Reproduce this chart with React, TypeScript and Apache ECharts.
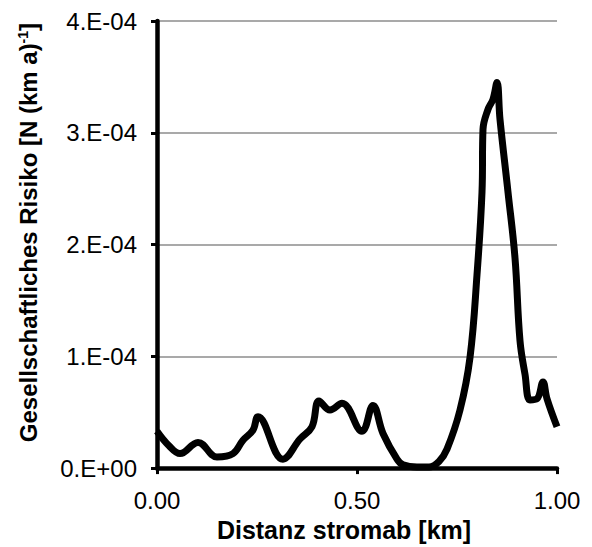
import React, { useEffect, useRef } from "react";
import * as echarts from "echarts";

const distanceKm = [
  0.0, 0.03, 0.0575, 0.1025, 0.15, 0.19, 0.215, 0.24, 0.2525, 0.315, 0.3575, 0.3875,
  0.405, 0.4325, 0.4625, 0.5125, 0.54, 0.565, 0.6, 0.615, 0.65, 0.68, 0.705, 0.725,
  0.7575, 0.7825, 0.8, 0.8125, 0.815, 0.8275, 0.84, 0.85, 0.8575, 0.8775, 0.895,
  0.9075, 0.92, 0.9325, 0.95, 0.965, 0.975, 1.0,
];
const risk = [
  3.3e-5, 2.0e-5, 1.3e-5, 2.3e-5, 1.0e-5, 1.3e-5, 2.5e-5, 3.4e-5, 4.6e-5, 0.8e-5, 2.6e-5, 3.7e-5,
  6.0e-5, 5.2e-5, 5.8e-5, 3.3e-5, 5.6e-5, 3.1e-5, 0.8e-5, 0.3e-5, 0.1e-5, 0.1e-5, 0.6e-5, 1.7e-5,
  5.2e-5, 9.9e-5, 1.73e-4, 2.47e-4, 3.03e-4, 3.21e-4, 3.3e-4, 3.45e-4, 3.12e-4, 2.47e-4, 1.88e-4,
  1.14e-4, 8.4e-5, 6.1e-5, 6.2e-5, 7.7e-5, 6.2e-5, 3.7e-5,
];
const yTickLabels = ["0.E+00", "1.E-04", "2.E-04", "3.E-04", "4.E-04"];
const xTickLabels = ["0.00", "0.50", "1.00"];

export default function App() {
  const ref = useRef<HTMLDivElement>(null);
  useEffect(() => {
    if (!ref.current) return;
    const chart = echarts.init(ref.current, undefined, { renderer: "svg" });
    const font = "Arial, 'Liberation Sans', sans-serif";
    chart.setOption({
      animation: false,
      backgroundColor: "#ffffff",
      grid: { left: 157, right: 35, top: 21, bottom: 75 },
      xAxis: {
        type: "value",
        min: 0,
        max: 1,
        interval: 0.5,
        name: "Distanz stromab [km]",
        nameLocation: "middle",
        nameGap: 48,
        nameTextStyle: { fontFamily: font, fontSize: 25, fontWeight: "bold", color: "#000", padding: [0, 26, 0, 0] },
        axisLine: { show: true, lineStyle: { color: "#000", width: 4.5 } },
        axisTick: { show: true, inside: false, length: 6, lineStyle: { color: "#000", width: 3 } },
        axisLabel: {
          fontFamily: font,
          fontSize: 24,
          color: "#000",
          margin: 20,
          formatter: (v: number) => xTickLabels[Math.round(v / 0.5)] ?? "",
        },
        splitLine: { show: false },
      },
      yAxis: {
        type: "value",
        min: 0,
        max: 4e-4,
        interval: 1e-4,
        name: "{t|Gesellschaftliches Risiko [N (km a)}{s|-1}{t|]}",
        nameLocation: "middle",
        nameGap: 117,
        nameRotate: 90,
        nameTextStyle: {
          padding: [0, 0, 0, 24],
          rich: {
            t: { fontFamily: font, fontSize: 24, fontWeight: "bold", color: "#000" },
            s: { fontFamily: font, fontSize: 14, fontWeight: "bold", color: "#000", verticalAlign: "top", padding: [0, 0, 10, 0] },
          },
        },
        axisLine: { show: true, lineStyle: { color: "#000", width: 4.5 } },
        axisTick: { show: true, inside: false, length: 6, lineStyle: { color: "#000", width: 3 } },
        axisLabel: {
          fontFamily: font,
          fontSize: 24,
          color: "#000",
          margin: 20,
          formatter: (v: number) => yTickLabels[Math.round(v / 1e-4)] ?? "",
        },
        splitLine: { show: true, lineStyle: { color: "#8c8c8c", width: 1.5 } },
      },
      series: [
        {
          type: "line",
          data: distanceKm.map((d, i) => [d, risk[i]]),
          smooth: 0.4,
          showSymbol: false,
          lineStyle: { color: "#000", width: 7 },
        },
      ],
    });
    return () => chart.dispose();
  }, []);
  return <div ref={ref} style={{ position: "absolute", left: 0, top: 0, width: 592, height: 547 }} />;
}
